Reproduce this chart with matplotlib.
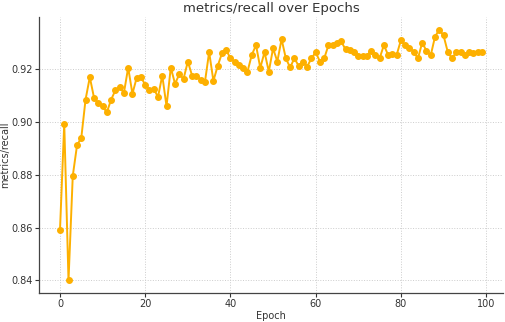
import matplotlib
matplotlib.use('Agg')
import matplotlib.pyplot as plt
import numpy as np

epochs = list(range(100))
recall = [
    0.859, 0.8994, 0.840, 0.8796, 0.8912, 0.894, 0.9085, 0.917, 0.9091, 0.9072,
    0.9059, 0.9037, 0.9085, 0.912, 0.9132, 0.911, 0.9206, 0.9107, 0.9168, 0.917,
    0.9141, 0.9122, 0.9126, 0.9095, 0.9176, 0.906, 0.9206, 0.9145, 0.9181, 0.9164,
    0.9229, 0.9176, 0.9176, 0.916, 0.915, 0.9265, 0.9156, 0.9212, 0.926, 0.9273,
    0.9241, 0.9229, 0.9216, 0.9206, 0.9191, 0.9254, 0.9291, 0.9205, 0.9265, 0.9191,
    0.9279, 0.9229, 0.9314, 0.9241, 0.9207, 0.9241, 0.9213, 0.9229, 0.921, 0.9241,
    0.9264, 0.9229, 0.9241, 0.9291, 0.9291, 0.9301, 0.9305, 0.9275, 0.9273, 0.9265,
    0.9251, 0.9251, 0.9251, 0.927, 0.9254, 0.9241, 0.9291, 0.9254, 0.9258, 0.9254,
    0.931, 0.929, 0.9281, 0.9266, 0.9241, 0.9301, 0.9269, 0.9253, 0.9323, 0.935,
    0.9328, 0.9265, 0.9241, 0.9265, 0.9265, 0.9253, 0.9264, 0.9261, 0.9266, 0.9265,
]

fig = plt.figure(figsize=(5.05, 3.22), dpi=100)
ax = fig.add_axes([0.077, 0.090, 0.919, 0.857])

ax.plot(epochs, recall, color='#FDB000', marker='o', markersize=4, linewidth=1.4)

ax.set_title('metrics/recall over Epochs', fontsize=9.5, color='#333333', pad=4)
ax.set_xlabel('Epoch', fontsize=7, color='#333333', labelpad=1)
ax.set_ylabel('metrics/recall', fontsize=7, color='#333333')
ax.yaxis.set_label_coords(-0.063, 0.5)
ax.tick_params(labelsize=7, colors='#333333', length=3, width=0.8, pad=1.5)
ax.grid(True, linestyle=':', color='#cccccc', linewidth=0.7)
ax.set_axisbelow(True)
for s in ['top', 'right']:
    ax.spines[s].set_visible(False)
for s in ['left', 'bottom']:
    ax.spines[s].set_color('#444444')
    ax.spines[s].set_linewidth(0.9)

fig.savefig('out.png', dpi=100)
